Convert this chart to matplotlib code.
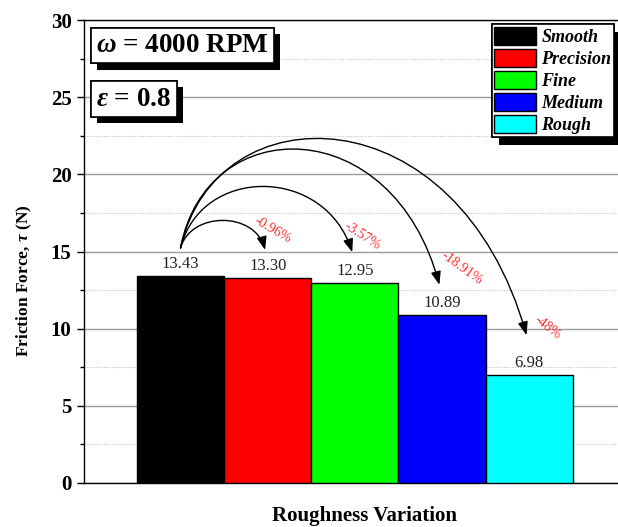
import matplotlib
matplotlib.use("Agg")
import matplotlib.pyplot as plt
from matplotlib.path import Path
from matplotlib.patches import FancyArrowPatch
from matplotlib.ticker import MultipleLocator
import matplotlib.patheffects as pe

# ---- data ----
categories = ["Smooth", "Precision", "Fine", "Medium", "Rough"]
friction = [13.43, 13.30, 12.95, 10.89, 6.98]
bar_colors = ["#000000", "#ff0000", "#00ff00", "#0000ff", "#00ffff"]
change_labels = ["-0.96%", "-3.57%", "-18.91%", "-48%"]
yticks = [0, 5, 10, 15, 20, 25, 30]

# ---- fonts ----
plt.rcParams['font.family'] = 'Liberation Serif'
plt.rcParams['mathtext.fontset'] = 'custom'
plt.rcParams['mathtext.rm'] = 'Liberation Serif'
plt.rcParams['mathtext.it'] = 'Liberation Serif:italic:bold'
plt.rcParams['mathtext.bf'] = 'Liberation Serif:bold'

W, H = 618, 527
fig = plt.figure(figsize=(W / 100, H / 100), dpi=100)
ax = fig.add_axes([84 / W, (H - 483) / H, 541 / W, 463 / H])

x = list(range(len(categories)))
bars = ax.bar(x, friction, width=1.0, color=bar_colors,
              edgecolor='black', linewidth=1.0, zorder=3)

ax.set_xlim(-1.108, 5.1)
ax.set_ylim(0, 30)
ax.set_xticks([])
ax.set_yticks(yticks)
ax.yaxis.set_minor_locator(MultipleLocator(2.5))
ax.tick_params(axis='y', which='major', direction='out', length=5,
               width=1, pad=4, labelsize=15)
ax.tick_params(axis='y', which='minor', direction='out', length=3, width=1)
for lbl in ax.get_yticklabels():
    lbl.set_fontweight('bold')

ax.set_axisbelow(True)
ax.yaxis.grid(True, which='major', color='#9a9a9a', lw=1.0)
ax.yaxis.grid(True, which='minor', color='#c0c0c0', lw=0.8,
              ls=(0, (1, 1.5)))
for s in ax.spines.values():
    s.set_linewidth(1.0)
    s.set_color('black')

ax.set_ylabel(r"Friction Force, $\tau$ (N)", fontsize=12.5, fontweight='bold')
ax.yaxis.set_label_coords(-0.092, 0.437)
ax.set_xlabel("Roughness Variation", fontsize=15, fontweight='bold')
ax.xaxis.set_label_coords(0.519, -0.05)

# value labels on top of the bars
for i, v in enumerate(friction):
    ax.annotate(f"{v:.2f}", (i, v), xytext=(0, 3), textcoords='offset points',
                ha='center', va='bottom', fontsize=12, color='#222222')

# curved arrows from the smooth bar to each rougher surface
start_gap = 1.8
end_gaps = [1.8, 2.0, 1.95, 2.6]
arc_tops = [17.0, 19.2, 21.6, 22.2]
lead = [0.12, 0.12, 0.1, 0.1]
tail = [0.12, 0.16, 0.18, 0.2]
x0, y0 = 0.0, friction[0] + start_gap
for k in range(1, len(friction)):
    x3 = k - 0.03
    y3 = friction[k] + end_gaps[k - 1]
    span = x3 - x0
    hc = (arc_tops[k - 1] - (y0 + y3) / 8) / 0.75
    verts = [(x0, y0), (x0 + lead[k - 1] * span, hc),
             (x3 - tail[k - 1] * span, hc), (x3, y3)]
    codes = [Path.MOVETO, Path.CURVE4, Path.CURVE4, Path.CURVE4]
    arrow = FancyArrowPatch(path=Path(verts, codes),
                            arrowstyle='-|>,head_length=0.8,head_width=0.3',
                            mutation_scale=10, color='black', lw=1.0,
                            zorder=5)
    ax.add_patch(arrow)

# percentage change labels
label_pos = [(1.06, 16.4, -30), (2.09, 16.0, -33),
             (3.23, 13.9, -36), (4.21, 10.1, -38)]
for txt, (lx, ly, rot) in zip(change_labels, label_pos):
    ax.text(lx, ly, txt, color='#ff2a2a', fontsize=10, rotation=rot,
            ha='center', va='center', rotation_mode='anchor', zorder=6)

# condition boxes with drop shadow
shadow = [pe.withSimplePatchShadow(offset=(4.5, -4.5), shadow_rgbFace='black',
                                   alpha=1.0), pe.Normal()]
box_style = dict(boxstyle='square,pad=0.2', fc='white', ec='black', lw=1.2)
t1 = fig.text(96 / W, 1 - 45.5 / H, r"$\omega$ = 4000 RPM", fontsize=19.5,
              fontweight='bold', ha='left', va='center', bbox=box_style)
t2 = fig.text(96 / W, 1 - 99 / H, r"$\varepsilon$ = 0.8", fontsize=19.5,
              fontweight='bold', ha='left', va='center', bbox=box_style)
for t in (t1, t2):
    t.get_bbox_patch().set_path_effects(shadow)

leg_shadow = [pe.withSimplePatchShadow(offset=(5.5, -5.5),
                                       shadow_rgbFace='black', alpha=1.0),
              pe.Normal()]
leg = ax.legend(bars.patches, categories, loc='upper right',
                bbox_to_anchor=(614 / W, 1 - 24 / H),
                bbox_transform=fig.transFigure,
                prop=dict(family='Liberation Serif', style='italic',
                          weight='bold', size=13),
                handlelength=2.3, handleheight=1.2, labelspacing=0.15,
                handletextpad=0.3, borderpad=0.15, borderaxespad=0,
                fancybox=False, framealpha=1, edgecolor='black')
leg.get_frame().set_linewidth(1.2)
leg.get_frame().set_path_effects(leg_shadow)
leg.set_zorder(10)

fig.savefig("out.png", dpi=100)
